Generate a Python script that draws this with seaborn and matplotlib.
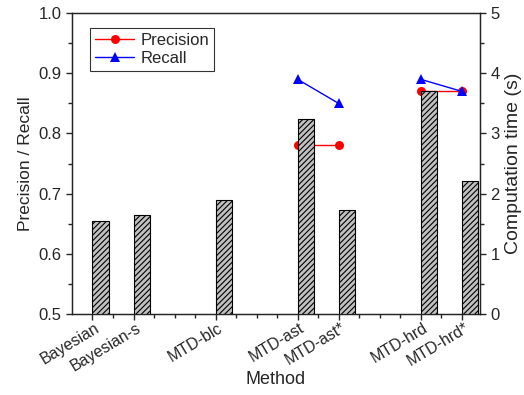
import matplotlib
matplotlib.use("Agg")
import matplotlib.pyplot as plt
import matplotlib.transforms as mtransforms
import seaborn as sns
import pandas as pd
import numpy as np
from matplotlib.ticker import MultipleLocator
from matplotlib.lines import Line2D

# data
methods = ["Bayesian", "Bayesian-s", "MTD-blc", "MTD-ast", "MTD-ast*", "MTD-hrd", "MTD-hrd*"]
method_pos = [0, 1, 3, 5, 6, 8, 9]
comp_time = [1.55, 1.64, 1.89, 3.24, 1.72, 3.71, 2.21]

pr_methods = ["MTD-ast", "MTD-ast*", "MTD-hrd", "MTD-hrd*"]
pr_group = ["ast", "ast", "hrd", "hrd"]
precision = [0.78, 0.78, 0.87, 0.87]
recall = [0.89, 0.85, 0.89, 0.87]

sns.set_style("ticks")
plt.rcParams["font.family"] = ["Liberation Sans", "DejaVu Sans"]
plt.rcParams["hatch.linewidth"] = 0.8

pos_map = dict(zip(methods, method_pos))
df = pd.DataFrame({
    "x": [pos_map[m] for m in pr_methods] * 2,
    "value": precision + recall,
    "metric": ["Precision"] * 4 + ["Recall"] * 4,
    "group": pr_group * 2,
})

fig = plt.figure(figsize=(5.24, 3.95), dpi=100)
ax = fig.add_axes([0.1374, 0.205, 0.7786, 0.762])

sns.lineplot(data=df, x="x", y="value", hue="metric", style="metric", units="group",
             estimator=None, palette={"Precision": "red", "Recall": "blue"},
             markers={"Precision": "o", "Recall": "^"}, dashes=False,
             markersize=6.5, markeredgewidth=0, linewidth=1, ax=ax, legend=False)

ax.set_ylim(0.5, 1.0)
ax.set_xlim(-0.5, 9.45)
ax.yaxis.set_major_locator(MultipleLocator(0.1))
ax.yaxis.set_minor_locator(MultipleLocator(0.05))
ax.set_xticks(method_pos)
ax.set_xticks(np.arange(0.5, 9.5, 1.0).tolist() + [2, 4, 7], minor=True)
ax.set_xticklabels(methods, rotation=31, ha="right", va="center", rotation_mode="anchor",
                   fontsize=11.5)
ax.set_ylabel("Precision / Recall", fontsize=12.5)
ax.set_xlabel("Method", fontsize=13, va="top")
ax.xaxis.set_label_coords(0.5, -0.19)
ax.tick_params(axis="y", which="major", labelsize=12)
ax.tick_params(axis="both", which="major", direction="out", length=4, width=1)
ax.tick_params(axis="x", which="major", pad=5)
ax.tick_params(axis="both", which="minor", direction="out", length=3, width=1)
for s in ax.spines.values():
    s.set_linewidth(1)
    s.set_visible(True)

ax2 = ax.twinx()
ax2.bar(method_pos, comp_time, width=0.4, align="edge", color="#c0c0c0",
        edgecolor="black", hatch="//////", linewidth=0.8)
ax2.set_ylim(0, 5)
ax2.yaxis.set_major_locator(MultipleLocator(1))
ax2.yaxis.set_minor_locator(MultipleLocator(0.5))
ax2.set_ylabel("Computation time (s)", fontsize=14)
ax2.tick_params(axis="y", which="major", labelsize=12, direction="out", length=4, width=1)
ax2.tick_params(axis="y", which="minor", direction="out", length=3, width=1)

handles = [Line2D([], [], color="red", marker="o", markersize=6.5, markeredgewidth=0, lw=1),
           Line2D([], [], color="blue", marker="^", markersize=6.5, markeredgewidth=0, lw=1)]
leg = ax2.legend(handles, ["Precision", "Recall"], loc="upper left",
                 bbox_to_anchor=(0.045, 0.95), fontsize=12, frameon=True,
                 fancybox=False, edgecolor="black", handlelength=2.3,
                 borderpad=0.3, labelspacing=0.15, handletextpad=0.4,
                 borderaxespad=0.0)
leg.get_frame().set_linewidth(0.8)

# nudge the rotated labels a little right, like the original
fig.canvas.draw()
shift = mtransforms.ScaledTranslation(6 / 100, 0, fig.dpi_scale_trans)
for lab in ax.get_xticklabels():
    lab.set_transform(lab.get_transform() + shift)

fig.savefig("out.png", dpi=100)
